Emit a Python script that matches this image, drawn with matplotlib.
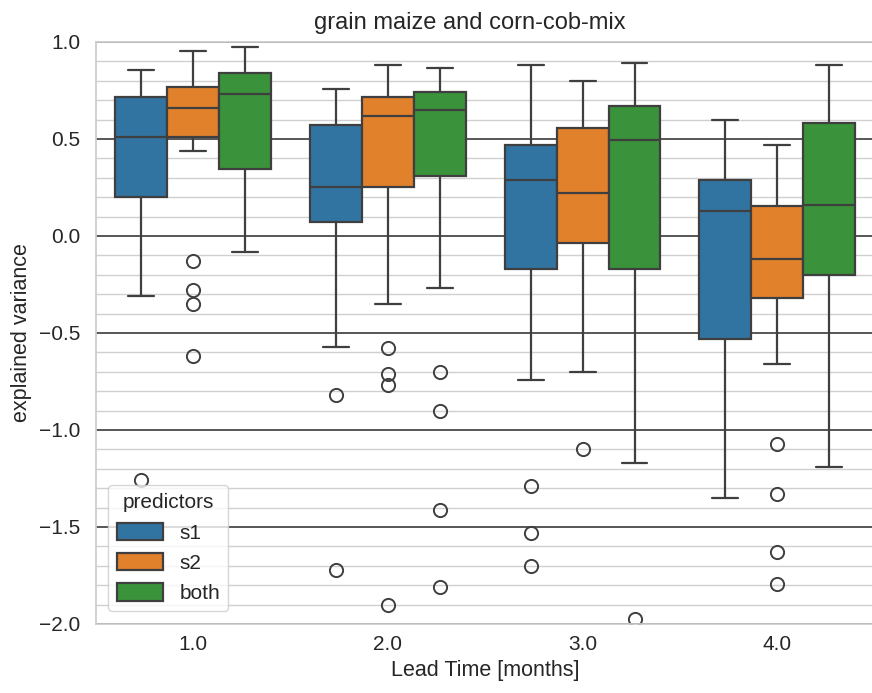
import numpy as np
import matplotlib as mpl
mpl.use('agg')
import matplotlib.pyplot as plt
import seaborn as sns
from matplotlib.ticker import MultipleLocator
from matplotlib.patches import Patch

sns.set_theme(style='whitegrid')
plt.rcParams['font.family'] = ['Liberation Sans', 'DejaVu Sans']

lead_times = ['1.0', '2.0', '3.0', '4.0']
predictors = ['s1', 's2', 'both']
colors = ['#3274a1', '#e1812c', '#3a923a']

# summary stats per predictor, one value per lead time
s1_whislo = [-0.31, -0.57, -0.74, -1.35]
s1_q1 = [0.20, 0.07, -0.17, -0.53]
s1_med = [0.51, 0.25, 0.29, 0.13]
s1_q3 = [0.715, 0.57, 0.47, 0.29]
s1_whishi = [0.855, 0.76, 0.88, 0.60]
s1_fliers = [[-1.26], [-0.82, -1.72], [-1.29, -1.53, -1.70], []]

s2_whislo = [0.437, -0.35, -0.70, -0.66]
s2_q1 = [0.51, 0.25, -0.035, -0.32]
s2_med = [0.66, 0.62, 0.22, -0.12]
s2_q3 = [0.77, 0.715, 0.555, 0.155]
s2_whishi = [0.955, 0.88, 0.80, 0.47]
s2_fliers = [[-0.13, -0.28, -0.35, -0.62], [-0.575, -0.71, -0.77, -1.90],
             [-1.10], [-1.07, -1.33, -1.63, -1.795]]

both_whislo = [-0.08, -0.27, -1.17, -1.19]
both_q1 = [0.345, 0.31, -0.17, -0.20]
both_med = [0.73, 0.65, 0.495, 0.16]
both_q3 = [0.84, 0.74, 0.67, 0.585]
both_whishi = [0.975, 0.865, 0.89, 0.88]
both_fliers = [[], [-0.70, -0.90, -1.41, -1.81], [-1.975], []]

groups = [
    (s1_whislo, s1_q1, s1_med, s1_q3, s1_whishi, s1_fliers),
    (s2_whislo, s2_q1, s2_med, s2_q3, s2_whishi, s2_fliers),
    (both_whislo, both_q1, both_med, both_q3, both_whishi, both_fliers),
]

fig = plt.figure(figsize=(8.72, 6.93), dpi=100)
ax = fig.add_axes([0.110, 0.0996, 0.893, 0.8398])

width = 0.8 / 3
line_c = '#3f3f3f'
for j, (lo, q1, med, q3, hi, fl) in enumerate(groups):
    stats = []
    for i in range(len(lead_times)):
        stats.append(dict(whislo=lo[i], q1=q1[i], med=med[i], q3=q3[i],
                          whishi=hi[i], fliers=fl[i]))
    pos = np.arange(len(lead_times)) + (j - 1) * width
    ax.bxp(stats, positions=pos, widths=width, patch_artist=True,
           manage_ticks=False,
           boxprops=dict(facecolor=colors[j], edgecolor=line_c, lw=1.6),
           medianprops=dict(color=line_c, lw=1.6),
           whiskerprops=dict(color=line_c, lw=1.6),
           capprops=dict(color=line_c, lw=1.6),
           flierprops=dict(marker='o', mfc='none', mec=line_c, ms=9.5, mew=1.4))

ax.set_xlim(-0.5, 3.5)
ax.set_ylim(-2.0, 1.0)
ax.set_xticks(np.arange(len(lead_times)))
ax.set_xticklabels(lead_times)
ax.yaxis.set_major_locator(MultipleLocator(0.5))
ax.yaxis.set_minor_locator(MultipleLocator(0.1))
ax.grid(False, axis='x')
ax.grid(True, axis='y', which='major', color='#3a3a3a', lw=1.2)
ax.grid(True, axis='y', which='minor', color='#d0d0d0', lw=1.0)
ax.set_axisbelow(True)
ax.tick_params(which='both', length=0, labelsize=15, colors='#262626')
ax.tick_params(axis='x', pad=8)
ax.tick_params(axis='y', pad=11)
for s in ax.spines.values():
    s.set_color('#cccccc')

ax.set_title('grain maize and corn-cob-mix', fontsize=17, x=0.48, color='#262626', pad=9)
ax.set_xlabel('Lead Time [months]', fontsize=15.5, color='#262626', labelpad=4)
ax.set_ylabel('explained variance', fontsize=15.5, color='#262626', labelpad=5)

handles = [Patch(facecolor=c, edgecolor=line_c, lw=1.6) for c in colors]
ax.legend(handles, predictors, title='predictors', loc='lower left',
          fontsize=15, title_fontsize=15, frameon=True, borderaxespad=0.6,
          handleheight=0.9, handlelength=2.2)

fig.savefig('out.png', dpi=100)
